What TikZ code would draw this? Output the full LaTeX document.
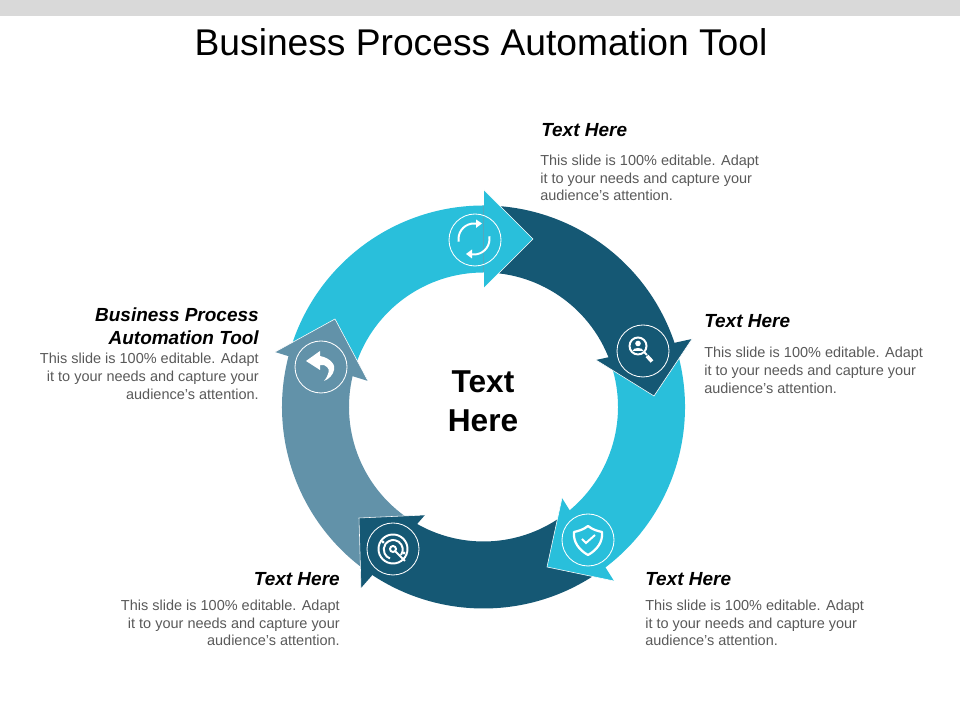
\documentclass[tikz,border=0pt]{standalone}
\usepackage{fontspec}
\setmainfont{Liberation Sans}
\usetikzlibrary{calc}
\definecolor{ringcyan}{HTML}{29BFDB}
\definecolor{ringdark}{HTML}{155874}
\definecolor{ringgrey}{HTML}{6292A9}
\definecolor{bodygrey}{HTML}{595959}
\definecolor{bandgrey}{HTML}{D9D9D9}
\tikzset{
  headtxt/.style={font=\fontsize{13.5}{16}\selectfont\bfseries\itshape,text=black,inner sep=0pt},
  bodytxt/.style={font=\fontsize{10.3}{12.7}\selectfont,text=bodygrey,inner sep=0pt},
  iconring/.style={draw=white,line width=0.6pt},
  iconline/.style={draw=white,line width=1.4pt},
}
\begin{document}
\begin{tikzpicture}[x=0.025cm,y=0.025cm]
  \useasboundingbox (0,0) rectangle (960,720);
  \fill[bandgrey] (0,704) rectangle (960,720);
  \node[font=\fontsize{26.45}{32}\selectfont,inner sep=0pt] (title) at (481,678) {Business Process Automation Tool};
  % ring
  \coordinate (ringc) at (483.5,313);
  \foreach \a/\b/\c in {162/90/ringcyan,90/18/ringdark,18/-54/ringcyan,-54/-126/ringdark,-126/-198/ringgrey}{
    \fill[\c] ($(ringc)+(\a:201.5)$) arc (\a:\b:201.5) -- ($(ringc)+(\b:134.5)$) arc (\b:\a:134.5) -- cycle;
  }
  % arrow heads
  \foreach \ax/\ay/\bx/\by/\cx/\cy/\c in {484/530/533/481/484/432/ringcyan,692/381/654/324/596/360/ringdark,562/222/547/153/614/139/ringcyan,425/205/359/202/361/132/ringdark,275/368/335/401/368/339/ringgrey}{
    \fill[\c] (\ax,\ay) -- (\bx,\by) -- (\cx,\cy) -- cycle;
    \draw[white,line width=0.4pt] (\ax,\ay) -- (\bx,\by) -- (\cx,\cy);
  }
  \foreach \ix/\iy in {475/480,643/369,588/180,393/171,321/353}{
    \draw[iconring] (\ix,\iy) circle (26);
  }
  % refresh icon
  \draw[iconline] (474,481)+(190:15.5) arc (190:70:15.5);
  \fill[white] (476,500.5) -- (482,496.5) -- (476,492) -- cycle;
  \draw[iconline] (474,481)+(10:15.5) arc (10:-110:15.5);
  \fill[white] (472,470.5) -- (466,466) -- (472,461.5) -- cycle;
  % search icon
  \draw[iconline] (638,374) circle (8.5);
  \fill[white] (638,376.5) circle (2.8);
  \fill[white] (632.5,369) .. controls (633,373) and (643,373) .. (643.5,369) -- cycle;
  \draw[iconline] (644,368) -- (647,365);
  \draw[white,line width=2.6pt] (647,364) -- (652,358.5);
  % shield icon
  \draw[white,line width=1.6pt,line join=round] (588,194) .. controls (593,190) and (598,189) .. (602,188) .. controls (603,178) and (597,170) .. (588,165) .. controls (579,170) and (573,178) .. (574,188) .. controls (578,189) and (583,190) .. (588,194) -- cycle;
  \draw[iconline] (582,181) -- (586,177) -- (595,185);
  % target icon
  \draw[iconline] (393,171) circle (14.5);
  \draw[iconline] (401,165) arc (-35:250:9.5);
  \draw[iconline] (393,171) circle (3);
  \draw[iconline] (395,169) -- (405,159);
  \fill[white] (383,178) circle (1.6) (404,167) circle (1.6);
  % return icon
  \fill[white] (306,359) -- (320,369) -- (320,364) .. controls (331,362) and (336,354) .. (334,350) .. controls (333,345) and (329,341) .. (324,339) .. controls (329,345) and (330,351) .. (327,353) .. controls (326,355) and (323,355) .. (320,355) -- (320,350) -- cycle;
  % centre and labels
  \node[font=\fontsize{22.5}{28}\selectfont\bfseries,align=center,inner sep=0pt] (centre) at (483,319) {Text\\Here};
  \node[headtxt,anchor=west] (t1) at (541,590) {Text Here};
  \node[bodytxt,anchor=north west,align=left] (b1) at (540,565.5) {This slide is 100\% editable. Adapt\\it to your needs and capture your\\audience's attention.};
  \node[headtxt,anchor=west] (t2) at (704,399) {Text Here};
  \node[bodytxt,anchor=north west,align=left] (b2) at (704,373) {This slide is 100\% editable. Adapt\\it to your needs and capture your\\audience's attention.};
  \node[headtxt,anchor=west] (t3) at (645,141) {Text Here};
  \node[bodytxt,anchor=north west,align=left] (b3) at (645,120.5) {This slide is 100\% editable. Adapt\\it to your needs and capture your\\audience's attention.};
  \node[headtxt,anchor=east] (t4) at (340,141) {Text Here};
  \node[bodytxt,anchor=north east,align=right] (b4) at (340,120.5) {This slide is 100\% editable. Adapt\\it to your needs and capture your\\audience's attention.};
  \node[headtxt,anchor=east,align=right] (t5) at (259,394) {Business Process\\Automation Tool};
  \node[bodytxt,anchor=north east,align=right] (b5) at (259,367) {This slide is 100\% editable. Adapt\\it to your needs and capture your\\audience's attention.};
\end{tikzpicture}
\end{document}
